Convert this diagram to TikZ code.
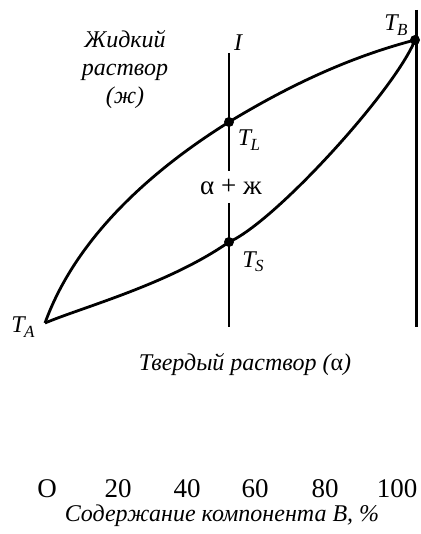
\documentclass[tikz,border=0pt]{standalone}
\usepackage{fontspec}
\setmainfont{Liberation Serif}
\newcommand{\Tsub}[1]{T\kern-0.5pt\raisebox{-0.4ex}{\fontsize{17}{17}\selectfont #1}}
\begin{document}
\begin{tikzpicture}[x=1pt,y=-1pt]
    % ===== PARAMETERS =====
    \pgfmathsetmacro{\LW}{2.8}   % curve width in pt
    \pgfmathsetmacro{\VW}{2.2}   % vertical line width in pt
    \pgfmathsetmacro{\FS}{24}    % font size in pt
    \pgfmathsetmacro{\NS}{27}    % number size in pt

    \tikzset{
        curve/.style={line width=\LW pt},
        ordinate/.style={line width=\VW pt},
        pointdot/.style={circle, fill=black, inner sep=0pt, minimum size=10pt},
        italtext/.style={font=\fontsize{\FS}{28}\selectfont\itshape, inner sep=0pt},
        uptext/.style={font=\fontsize{\FS}{28}\selectfont, inner sep=0pt}
    }

    \useasboundingbox (0,0) rectangle (420,534);

    % ===== POINTS =====
    \coordinate (tA) at (45,323);
    \coordinate (tL) at (229,122);
    \coordinate (tS) at (229,242);
    \coordinate (tB) at (415,40);

    % ===== VERTICAL LINES =====
    % Line I (broken round the two-phase label)
    \node[uptext, inner ysep=8pt, font=\fontsize{27}{30}\selectfont] (mix) at (231,187) {α + ж};
    \coordinate (itop) at (229,53);
    \coordinate (ibot) at (229,327);
    \draw[ordinate] (itop) -- (itop |- mix.north);
    \draw[ordinate] (ibot |- mix.south) -- (ibot);
    % Pure B
    \coordinate (rtop) at (416,10);
    \coordinate (rbot) at (416,327);
    \draw[line width=3pt] (rtop) -- (rbot);

    % ===== CURVES =====
    % Liquidus
    \draw[curve] (tA) .. controls (78,232) and (160,165) .. (tL)
                      .. controls (290,85) and (350,57) .. (tB);
    % Solidus
    \draw[curve] (tA) .. controls (83,307) and (169,284) .. (tS)
                      .. controls (275,222) and (395,90) .. (tB);

    \node[pointdot] (dL) at (tL) {};
    \node[pointdot] (dS) at (tS) {};
    \node[pointdot] (dB) at (tB) {};

    % ===== LABELS =====
    \node[italtext] (lTB) at (396,25) {\Tsub{B}};
    \node[italtext] (lTL) at (249,140) {\Tsub{L}};
    \node[italtext] (lTS) at (253,262) {\Tsub{S}};
    \node[italtext] (lTA) at (23,327) {\Tsub{A}};
    \node[italtext] (lI) at (238,43) {I};
    \node[italtext, align=center] (liquid) at (125,70) {Жидкий\\раствор\\(ж)};
    \node[italtext] (solid) at (245,365) {Твердый раствор ({\upshape α})};

    % ===== AXIS =====
    \foreach \v/\x in {O/47,20/118,40/187,60/255,80/325,100/397}
        \node[uptext, font=\fontsize{\NS}{30}\selectfont] (n\v) at (\x,489) {\v};
    \node[italtext] (axis) at (222,516) {Содержание компонента B, \%};
\end{tikzpicture}
\end{document}
